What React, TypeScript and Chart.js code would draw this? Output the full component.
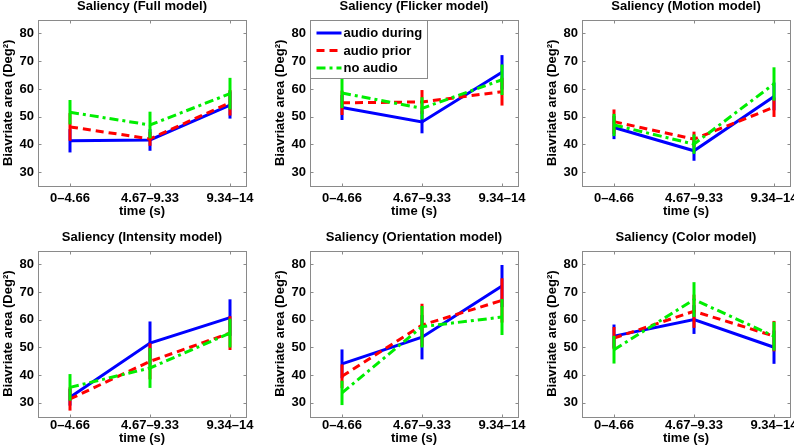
import React, { useEffect, useRef } from "react";
import { Chart, registerables } from "chart.js";

Chart.register(...registerables);

// ---------- data ----------
const xPositions = [1, 2, 3];
const xLabels = ["0–4.66", "4.67–9.33", "9.34–14"];
const yTicks = [30, 40, 50, 60, 70, 80];
const seriesNames = ["audio during", "audio prior", "no audio"];

const panelTitles = [
  "Saliency (Full model)",
  "Saliency (Flicker model)",
  "Saliency (Motion model)",
  "Saliency (Intensity model)",
  "Saliency (Orientation model)",
  "Saliency (Color model)",
];

// means: [audio during, audio prior, no audio]
const fullMeans = [[41.3, 41.6, 54.2], [46.3, 42.0, 55.0], [51.6, 47.0, 58.3]];
const fullErrs = [[4.2, 3.9, 4.9], [5.0, 2.5, 4.6], [4.4, 4.8, 5.7]];

const flickerMeans = [[53.3, 48.1, 66.0], [55.0, 55.3, 59.0], [58.5, 53.0, 63.3]];
const flickerErrs = [[4.5, 4.1, 6.2], [4.4, 4.3, 5.0], [5.4, 4.0, 5.5]];

const motionMeans = [[46.1, 37.7, 57.3], [48.2, 41.9, 53.4], [47.0, 40.1, 61.8]];
const motionErrs = [[4.2, 3.6, 5.0], [4.4, 2.7, 3.5], [4.0, 3.5, 6.0]];

const intensityMeans = [[32.0, 51.6, 60.8], [31.4, 45.0, 55.2], [35.6, 42.6, 55.2]];
const intensityErrs = [[3.0, 7.8, 6.6], [4.2, 6.5, 6.1], [4.8, 7.2, 5.2]];

const orientationMeans = [[44.1, 53.7, 72.2], [39.6, 58.1, 67.0], [33.6, 57.5, 61.0]];
const orientationErrs = [[5.2, 8.0, 7.6], [4.3, 7.7, 8.0], [4.4, 7.5, 6.5]];

const colorMeans = [[54.1, 60.1, 50.1], [53.4, 63.1, 54.1], [49.2, 67.3, 54.1]];
const colorErrs = [[4.2, 5.2, 6.0], [4.0, 6.0, 5.5], [5.0, 6.3, 5.2]];

const allMeans = [fullMeans, flickerMeans, motionMeans, intensityMeans, orientationMeans, colorMeans];
const allErrs = [fullErrs, flickerErrs, motionErrs, intensityErrs, orientationErrs, colorErrs];

// ---------- styles ----------
const FAMILY = "'Liberation Sans', Arial, Helvetica, sans-serif";
const FONT = { family: FAMILY, size: 13, weight: "bold" as const, lineHeight: 1.2 };
const BOX_COLOR = "#8a8a8a";
const seriesColors = ["#0000ff", "#ff0000", "#00ee00"];
const seriesDashes = [[], [8, 5], [9, 4, 3, 4]];

const colLefts = [38, 310, 582];
const PLOT_W = 208;
const Y_AXIS_W = 38;
const RIGHT_PAD = 20;

const rows = [
  { top: -1, height: 220, xAxisH: 33, tickPad: 5 },
  { top: 230, height: 216, xAxisH: 29.3, tickPad: 1 },
];

// ---------- plugins ----------
const boxPlugin = {
  id: "matlabBox",
  beforeDatasetsDraw(chart: any) {
    const { ctx, chartArea: a, scales } = chart;
    const x = scales.x;
    const y = scales.y;
    const l = Math.round(a.left) + 0.5;
    const t = Math.round(a.top) + 0.5;
    const r = Math.round(a.right) + 0.5;
    const b = Math.round(a.bottom) + 0.5;
    ctx.save();
    ctx.strokeStyle = BOX_COLOR;
    ctx.lineWidth = 1;
    ctx.setLineDash([]);
    ctx.strokeRect(l, t, r - l, b - t);
    ctx.beginPath();
    x.ticks.forEach((tk: any) => {
      const px = Math.round(x.getPixelForValue(tk.value)) + 0.5;
      ctx.moveTo(px, b);
      ctx.lineTo(px, b - 3);
      ctx.moveTo(px, t);
      ctx.lineTo(px, t + 3);
    });
    y.ticks.forEach((tk: any) => {
      const py = Math.round(y.getPixelForValue(tk.value)) + 0.5;
      ctx.moveTo(l, py);
      ctx.lineTo(l + 3, py);
      ctx.moveTo(r, py);
      ctx.lineTo(r - 3, py);
    });
    ctx.stroke();
    ctx.restore();
  },
};

const errorBarPlugin = {
  id: "errorBars",
  afterDatasetDraw(chart: any, args: any, opts: any) {
    const errs = opts && opts.errs;
    if (!errs) return;
    const i = args.index;
    const ds = chart.data.datasets[i];
    const { ctx, scales } = chart;
    const x = scales.x;
    const y = scales.y;
    ctx.save();
    ctx.strokeStyle = ds.borderColor;
    ctx.lineWidth = 3;
    ctx.lineCap = "butt";
    ctx.setLineDash([]);
    ds.data.forEach((pt: any, j: number) => {
      const e = errs[i][j];
      const px = x.getPixelForValue(pt.x);
      ctx.beginPath();
      ctx.moveTo(px, y.getPixelForValue(pt.y - e));
      ctx.lineTo(px, y.getPixelForValue(pt.y + e));
      ctx.stroke();
    });
    ctx.restore();
  },
};

const insetLegendPlugin = {
  id: "insetLegend",
  afterDatasetsDraw(chart: any, _args: any, opts: any) {
    if (!opts || !opts.show) return;
    const { ctx, chartArea: a } = chart;
    const l = Math.round(a.left) + 0.5;
    const t = Math.round(a.top) + 0.5;
    const w = 117;
    const h = 58;
    ctx.save();
    ctx.fillStyle = "#ffffff";
    ctx.fillRect(l, t, w, h);
    ctx.strokeStyle = BOX_COLOR;
    ctx.lineWidth = 1;
    ctx.setLineDash([]);
    ctx.strokeRect(l, t, w, h);
    chart.data.datasets.forEach((ds: any, i: number) => {
      const cy = t + 12.5 + i * 17.5;
      ctx.strokeStyle = ds.borderColor;
      ctx.lineWidth = 3;
      ctx.lineCap = "butt";
      ctx.setLineDash(ds.borderDash || []);
      ctx.beginPath();
      ctx.moveTo(l + 6, cy);
      ctx.lineTo(l + 31, cy);
      ctx.stroke();
      ctx.setLineDash([]);
      ctx.fillStyle = "#000000";
      ctx.font = `bold 13px ${FAMILY}`;
      ctx.textBaseline = "middle";
      ctx.textAlign = "left";
      ctx.fillText(ds.label, l + 33, cy + 0.5);
    });
    ctx.restore();
  },
};

// ---------- panel ----------
function Panel({ index }: { index: number }) {
  const ref = useRef<HTMLCanvasElement | null>(null);
  const col = index % 3;
  const row = rows[Math.floor(index / 3)];
  const left = colLefts[col] - Y_AXIS_W;
  const width = Y_AXIS_W + PLOT_W + RIGHT_PAD;

  useEffect(() => {
    if (!ref.current) return;
    const means = allMeans[index];
    const errs = allErrs[index];
    const chart = new Chart(ref.current, {
      type: "line",
      data: {
        datasets: seriesNames.map((name, i) => ({
          label: name,
          data: xPositions.map((xv, j) => ({ x: xv, y: means[i][j] })),
          borderColor: seriesColors[i],
          backgroundColor: seriesColors[i],
          borderWidth: 3,
          borderDash: seriesDashes[i],
          borderCapStyle: "butt",
          pointRadius: 0,
          pointHoverRadius: 0,
          fill: false,
          tension: 0,
          order: 3 - i,
        })),
      },
      options: {
        responsive: false,
        animation: false,
        events: [],
        layout: { padding: { left: 0, right: RIGHT_PAD, top: 0, bottom: 0 } },
        plugins: {
          legend: { display: false },
          tooltip: { enabled: false },
          title: {
            display: true,
            fullSize: false,
            text: panelTitles[index],
            color: "#000",
            font: FONT,
            padding: { top: 0, bottom: 5 },
          },
          errorBars: { errs },
          insetLegend: { show: index === 1 },
        } as any,
        scales: {
          x: {
            type: "linear",
            bounds: "data",
            min: 0.6,
            max: 3.2,
            afterBuildTicks: (s: any) => {
              s.ticks = xPositions.map((v) => ({ value: v }));
            },
            afterFit: (s: any) => {
              s.height = row.xAxisH;
            },
            ticks: {
              callback: (_v: any, i: number) => xLabels[i],
              color: "#000",
              font: FONT,
              padding: row.tickPad,
              maxRotation: 0,
              minRotation: 0,
              autoSkip: false,
            },
            grid: { display: false, drawTicks: false },
            border: { display: false },
            title: { display: true, text: "time (s)", color: "#000", font: FONT, padding: 0 },
          },
          y: {
            type: "linear",
            bounds: "data",
            min: 25,
            max: 85,
            afterBuildTicks: (s: any) => {
              s.ticks = yTicks.map((v) => ({ value: v }));
            },
            afterFit: (s: any) => {
              s.width = Y_AXIS_W;
            },
            ticks: { color: "#000", font: FONT, padding: 4 },
            grid: { display: false, drawTicks: false },
            border: { display: false },
            title: {
              display: true,
              text: "Biavriate area (Deg²)",
              color: "#000",
              font: FONT,
              padding: { top: 1, bottom: 0 },
            },
          },
        },
      } as any,
      plugins: [boxPlugin, errorBarPlugin, insetLegendPlugin],
    });
    return () => chart.destroy();
  }, [index]);

  return (
    <canvas
      ref={ref}
      width={width}
      height={row.height}
      style={{ position: "absolute", left, top: row.top, width, height: row.height }}
    />
  );
}

export default function App() {
  return (
    <div
      style={{
        position: "fixed",
        left: 0,
        top: 0,
        width: 794,
        height: 448,
        overflow: "hidden",
        background: "#ffffff",
      }}
    >
      {panelTitles.map((_, i) => (
        <Panel key={i} index={i} />
      ))}
    </div>
  );
}
